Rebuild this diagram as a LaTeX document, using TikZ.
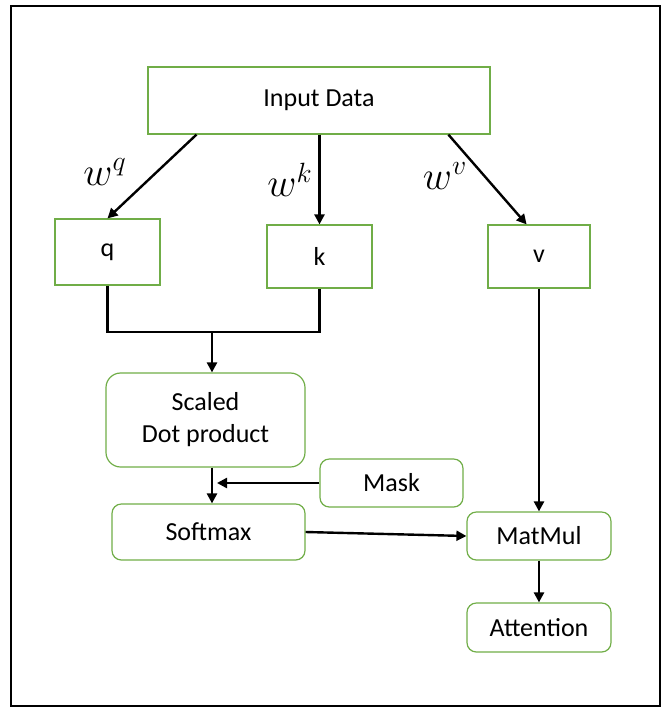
\documentclass[tikz,border=0pt]{standalone}
\usepackage{fontspec}
\setmainfont{Carlito}
\usetikzlibrary{arrows.meta,calc}
\definecolor{boxgreen}{RGB}{112,173,71}
\begin{document}
\begin{tikzpicture}[x=0.75pt, y=-0.75pt, font=\fontsize{19.5}{24}\selectfont,
  box/.style={draw=boxgreen, line width=0.9pt, inner sep=0pt, align=center},
  rbox/.style={box, rounded corners=7pt},
  lbl/.style={scale=1.45},
  ln/.style={line width=1.8pt},
  arr/.style={ln, -{Triangle[length=7.5pt, width=7.5pt]}}]
  \useasboundingbox (0,0) rectangle (662,708);
  \draw[line width=1.5pt] (11,6) rectangle (660,706);
  \node(I) [box, minimum width=256.5pt, minimum height=50.25pt] at (319,100.5) {Input Data};
  \node(Q) [box, minimum width=78.75pt, minimum height=49.5pt] at (107.5,252) {q};
  \node(K) [box, minimum width=78.75pt, minimum height=47.25pt] at (319.5,256.5) {k};
  \node(V) [box, minimum width=76.5pt, minimum height=47.25pt] at (539,256.5) {v};
  \node(S) [rbox, rounded corners=11pt, minimum width=149.25pt, minimum height=70.5pt] at (205.5,420) {Scaled\\Dot product};
  \node(M) [rbox, minimum width=107.25pt, minimum height=36pt] at (391.5,483) {Mask};
  \node(SM) [rbox, minimum width=144.75pt, minimum height=42pt] at (208.5,532) {Softmax};
  \node(MM) [rbox, minimum width=108pt, minimum height=36pt] at (539,536) {MatMul};
  \node(A) [rbox, minimum width=108pt, minimum height=36.75pt] at (539,627.5) {Attention};
  \node(wq) [lbl] at (105,172) {$w^q$};
  \node(wk) [lbl] at (290,180) {$w^k$};
  \node(wv) [lbl] at (445,176) {$w^v$};
  \coordinate(J) at (212,332);
  \draw[arr] ($(I.south west)!0.143!(I.south east)$) -- (Q.north);
  \draw[arr] (I.south -| K.north) -- (K.north);
  \draw[arr] ($(I.south west)!0.877!(I.south east)$) -- ($(V.north west)!0.38!(V.north east)$);
  \draw[ln] (Q.south) |- (J) -| (K.south);
  \draw[arr] (J) -- (S.north -| J);
  \draw[arr] (S.south -| J) -- (SM.north -| J);
  \draw[arr] (M.west) -- ($(J |- M.west)+(5,0)$);
  \draw[arr] (SM.east) -- (MM.west);
  \draw[arr] (V.south) -- (MM.north);
  \draw[arr] (MM.south) -- (A.north);
\end{tikzpicture}
\end{document}
